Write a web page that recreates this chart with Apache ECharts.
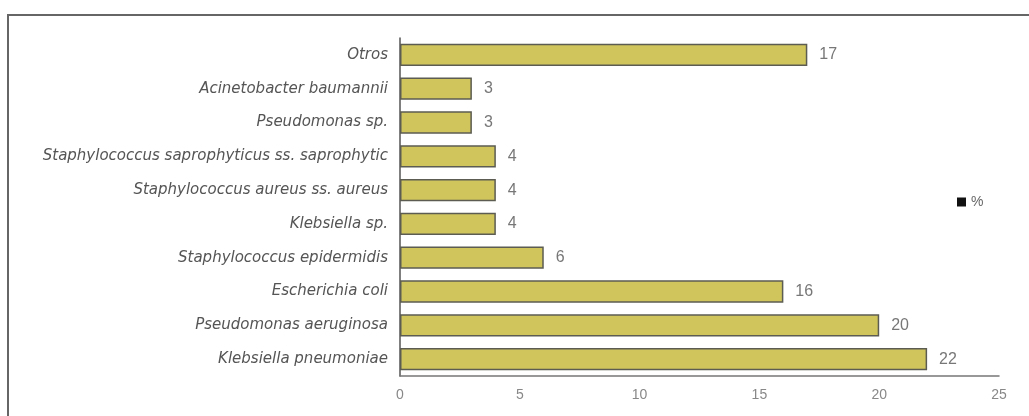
<!DOCTYPE html>
<html>
<head>
<meta charset="utf-8">
<script src="https://cdn.jsdelivr.net/npm/echarts@6/dist/echarts.min.js"></script>
<style>html,body{margin:0;padding:0;background:#fff;}#c{width:1029px;height:416px;}</style>
</head>
<body>
<div id="c"></div>
<script>
const categories = [
  "Klebsiella pneumoniae",
  "Pseudomonas aeruginosa",
  "Escherichia coli",
  "Staphylococcus epidermidis",
  "Klebsiella sp.",
  "Staphylococcus aureus ss. aureus",
  "Staphylococcus saprophyticus ss. saprophytic",
  "Pseudomonas sp.",
  "Acinetobacter baumannii",
  "Otros"
];
const values = [22, 20, 16, 6, 4, 4, 4, 3, 3, 17];
const xTicks = [0, 5, 10, 15, 20, 25];
const seriesName = "%";

const chart = echarts.init(document.getElementById('c'), null, {renderer: 'canvas'});
chart.setOption({
  backgroundColor: '#fff',
  animation: false,
  graphic: [{
    type: 'rect',
    shape: {x: 8, y: 15, width: 1100, height: 500},
    style: {fill: 'none', stroke: '#666', lineWidth: 2},
    silent: true
  }],
  legend: {
    data: [seriesName],
    left: 952, top: 190,
    itemWidth: 9, itemHeight: 9, itemGap: 4,
    icon: 'rect',
    textStyle: {color: '#666', fontSize: 14, fontFamily: 'Liberation Sans'},
    itemStyle: {color: '#111', borderWidth: 0}
  },
  grid: {left: 400, right: 30, top: 38, bottom: 40, containLabel: false},
  xAxis: {
    type: 'value', min: 0, max: 25, interval: 5,
    axisLine: {show: true, lineStyle: {color: '#777', width: 1.5}},
    axisTick: {show: false},
    splitLine: {show: false},
    axisLabel: {color: '#888', fontSize: 14, fontFamily: 'Liberation Sans', margin: 12,
      formatter: v => xTicks.includes(v) ? String(v) : ''}
  },
  yAxis: {
    type: 'category', data: categories,
    axisLine: {show: true, lineStyle: {color: '#555', width: 1.5}},
    axisTick: {show: false},
    axisLabel: {color: '#555', fontSize: 15, fontStyle: 'italic', fontFamily: 'DejaVu Sans', margin: 12}
  },
  series: [{
    name: seriesName,
    type: 'bar',
    data: values,
    barCategoryGap: '34%',
    itemStyle: {color: '#cfc55c', borderColor: '#5c5c52', borderWidth: 1.5},
    label: {show: true, position: 'right', distance: 12, color: '#777', fontSize: 16, fontFamily: 'Liberation Sans'}
  }]
});
</script>
</body>
</html>
